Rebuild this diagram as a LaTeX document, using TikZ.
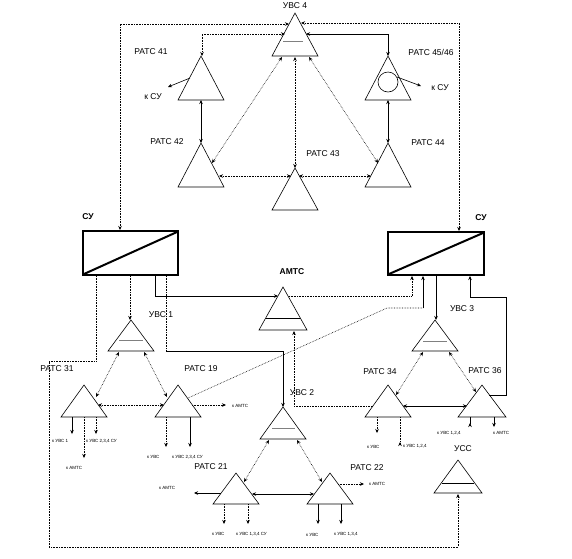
\documentclass[tikz,border=0pt]{standalone}
\usepackage{fontspec}
\setmainfont{Liberation Sans}
\usetikzlibrary{arrows.meta}
\newcommand\mytri[5]{%
  \coordinate (#1) at (#2,#3);
  \draw[trishape] (#2,#3) -- (#2-#4,#3+#5) -- (#2+#4,#3+#5) -- cycle;}
\begin{document}
\begin{tikzpicture}[x=1pt,y=-1pt,
  trishape/.style={draw=black,line width=0.6pt,line join=miter},
  lab/.style={font=\fontsize{8.5}{9}\selectfont,inner sep=0pt},
  blab/.style={font=\bfseries\fontsize{8.5}{9}\selectfont,inner sep=0pt},
  tiny/.style={font=\fontsize{4.5}{5}\selectfont,inner sep=0pt,anchor=west},
  dl/.style={densely dotted,line width=0.6pt},
  sl/.style={line width=0.6pt},
  one/.style={-{Stealth[length=4pt,width=3.5pt]}},
  two/.style={{Stealth[length=4pt,width=3.5pt]}-{Stealth[length=4pt,width=3.5pt]}},
  rev/.style={-{Stealth[length=4pt,width=3.5pt,reversed]}},
  bar/.style={line width=1pt,draw=gray},
  bbar/.style={line width=0.8pt,draw=black},
  subox/.style={draw=black,line width=2.2pt}]
\useasboundingbox (0,0) rectangle (572,558);
\fill[white] (0,0) rectangle (572,558);

% ---------- triangles ----------
\mytri{uvs4}{295}{13}{23}{43}
\mytri{r41}{201}{56}{23}{44}
\mytri{r4546}{388}{56}{23}{44}
\mytri{r42}{201}{143}{23}{44}
\mytri{r43}{295}{168}{23}{42}
\mytri{r44}{388}{143}{23}{44}
\mytri{amts}{283}{287}{24}{43}
\mytri{uvs1}{131}{320}{23}{31}
\mytri{uvs3}{435}{320}{23}{31}
\mytri{r31}{84}{385}{23}{32}
\mytri{r19}{178}{385}{23}{32}
\mytri{r34}{388}{385}{23}{32}
\mytri{r36}{482}{385}{24}{32}
\mytri{uvs2}{283}{407}{23}{32}
\mytri{r21}{236}{473}{23}{31}
\mytri{r22}{330}{473}{23}{31}
\mytri{uss}{458}{460}{24}{33}

% bars
\draw[bar] (283,41) -- (303,41);
\draw[bar] (119,340) -- (143,340);
\draw[bar] (423,341) -- (447,341);
\draw[bar] (272,428) -- (295,428);
\draw[bbar] (266,318) -- (300,318);
\draw[bbar] (442,483) -- (474,483);
\draw[line width=0.6pt] (388,82) circle (10);

% SU boxes
\draw[subox] (83,231) rectangle (178,275);
\draw[line width=2pt] (84,274) -- (177,232);
\coordinate (suL) at (130,253);
\draw[subox] (388,232) rectangle (484,275);
\draw[line width=2pt] (389,274) -- (483,233);
\coordinate (suR) at (436,253);

% ---------- labels ----------
\node[lab] (tUVS4) at (295,6) {УВС 4};
\node[lab] (t41) at (151,52) {РАТС 41};
\node[lab] (tsu1) at (153,97) {к СУ};
\node[lab] (t4546) at (431,52) {РАТС 45/46};
\node[lab] (tsu2) at (440,88) {к СУ};
\node[lab] (t42) at (167,142) {РАТС 42};
\node[lab] (t43) at (323,154) {РАТС 43};
\node[lab] (t44) at (428,143) {РАТС 44};
\node[blab] (tSUL) at (88,217) {СУ};
\node[blab] (tSUR) at (481,218) {СУ};
\node[blab] (tAMTS) at (292,272) {АМТС};
\node[lab] (tUVS1) at (161,315) {УВС 1};
\node[lab] (tUVS3) at (462,309) {УВС 3};
\node[lab] (t31) at (57,369) {РАТС 31};
\node[lab] (t19) at (201,369) {РАТС 19};
\node[lab] (tUVS2) at (302,393) {УВС 2};
\node[lab] (t34) at (380,372) {РАТС 34};
\node[lab] (t36) at (485,371) {РАТС 36};
\node[lab] (t21) at (211,467) {РАТС 21};
\node[lab] (t22) at (367,468) {РАТС 22};
\node[lab] (tUSS) at (463,449) {УСС};

\node[tiny] (a1) at (52,441) {к УВС 1};
\node[tiny] (a2) at (86,441) {к УВС 2,3,4 СУ};
\node[tiny] (a3) at (66,468) {к АМТС};
\node[tiny] (a4) at (147,457) {к УВС};
\node[tiny] (a5) at (172,457) {к УВС 2,3,4 СУ};
\node[tiny] (a6) at (232,406) {к АМТС};
\node[tiny] (a7) at (159,488) {к АМТС};
\node[tiny] (a8) at (369,484) {к АМТС};
\node[tiny] (a9) at (212,534) {к УВС};
\node[tiny] (a10) at (236,534) {к УВС 1,3,4 СУ};
\node[tiny] (a11) at (306,535) {к УВС};
\node[tiny] (a12) at (334,534) {к УВС 1,3,4};
\node[tiny] (a13) at (367,447) {к УВС};
\node[tiny] (a14) at (403,446) {к УВС 1,2,4};
\node[tiny] (a15) at (437,433) {к УВС 1,2,4};
\node[tiny] (a16) at (493,433) {к АМТС};

% ---------- connectors: top ----------
\draw[dl,two] (289,24) -- (120,24) -- (120,230);
\draw[dl,two] (285,34) -- (202,34) -- (202,56);
\draw[dl,two] (301,23) -- (459,23) -- (459,231);
\draw[sl,two] (306,34) -- (388,34) -- (388,56);
\draw[sl,two] (201,100) -- (201,143);
\draw[sl,two] (388,100) -- (388,143);
\draw[dl,two] (282,57) -- (212,163);
\draw[dl,two] (309,57) -- (378,163);
\draw[dl,two] (295,57) -- (295,168);
\draw[dl,two] (219,176) -- (291,176);
\draw[dl,two] (299,176) -- (371,176);
\draw[sl,one] (190,78) -- (168,87);
\draw[sl,one] (397,77) -- (421,86);

% ---------- connectors: middle ----------
\draw[dl,one] (96,276) -- (96,361) -- (49,361) -- (49,547) -- (458,547) -- (458,494);
\draw[dl,one] (130,276) -- (130,320);
\draw[sl,one] (155,276) -- (155,296) -- (278,296);
\draw[dl,one] (289,296) -- (412,296) -- (412,276);
\draw[dl] (166,276) -- (166,351);
\draw[sl,one] (166,351) -- (283,351) -- (283,407);
\draw[dl] (188,398) -- (387,308) -- (423,308);
\draw[sl,one] (423,308) -- (423,276);
\draw[sl,one] (436,276) -- (436,320);
\draw[sl,one] (489,395) -- (506,395) -- (506,297) -- (470,297) -- (470,276);
\draw[dl,one] (373,406) -- (294,406) -- (294,331);

% ---------- УВС 1 group ----------
\draw[dl,two] (119,352) -- (96,397);
\draw[dl,two] (144,352) -- (167,397);
\draw[dl,two] (98,405) -- (164,405);
\draw[dl,one] (192,405) -- (226,405);
\draw[sl,one] (72,417) -- (72,434);
\draw[dl,one] (84,417) -- (84,458);
\draw[dl,one] (96,417) -- (96,434);
\draw[dl,one] (166,417) -- (166,447);
\draw[sl,one] (190,417) -- (190,447);

% ---------- УВС 2 group ----------
\draw[dl,two] (269,440) -- (244,482);
\draw[dl,two] (297,440) -- (322,482);
\draw[sl,two] (252,494) -- (314,494);
\draw[sl,one] (221,493) -- (194,493);
\draw[dl,one] (338,484) -- (364,484);
\draw[dl,one] (224,504) -- (224,524);
\draw[dl,one] (248,504) -- (248,524);
\draw[sl,one] (318,504) -- (318,524);
\draw[sl,one] (341,504) -- (341,524);

% ---------- УВС 3 group ----------
\draw[dl,two] (423,352) -- (396,395);
\draw[dl,two] (449,352) -- (476,392);
\draw[sl,two] (403,406) -- (467,406);
\draw[dl,one] (377,417) -- (377,433);
\draw[dl,rev] (400,417) -- (400,446);
\draw[sl,rev] (470,417) -- (470,427);
\draw[sl,one] (494,417) -- (494,427);
\end{tikzpicture}
\end{document}
